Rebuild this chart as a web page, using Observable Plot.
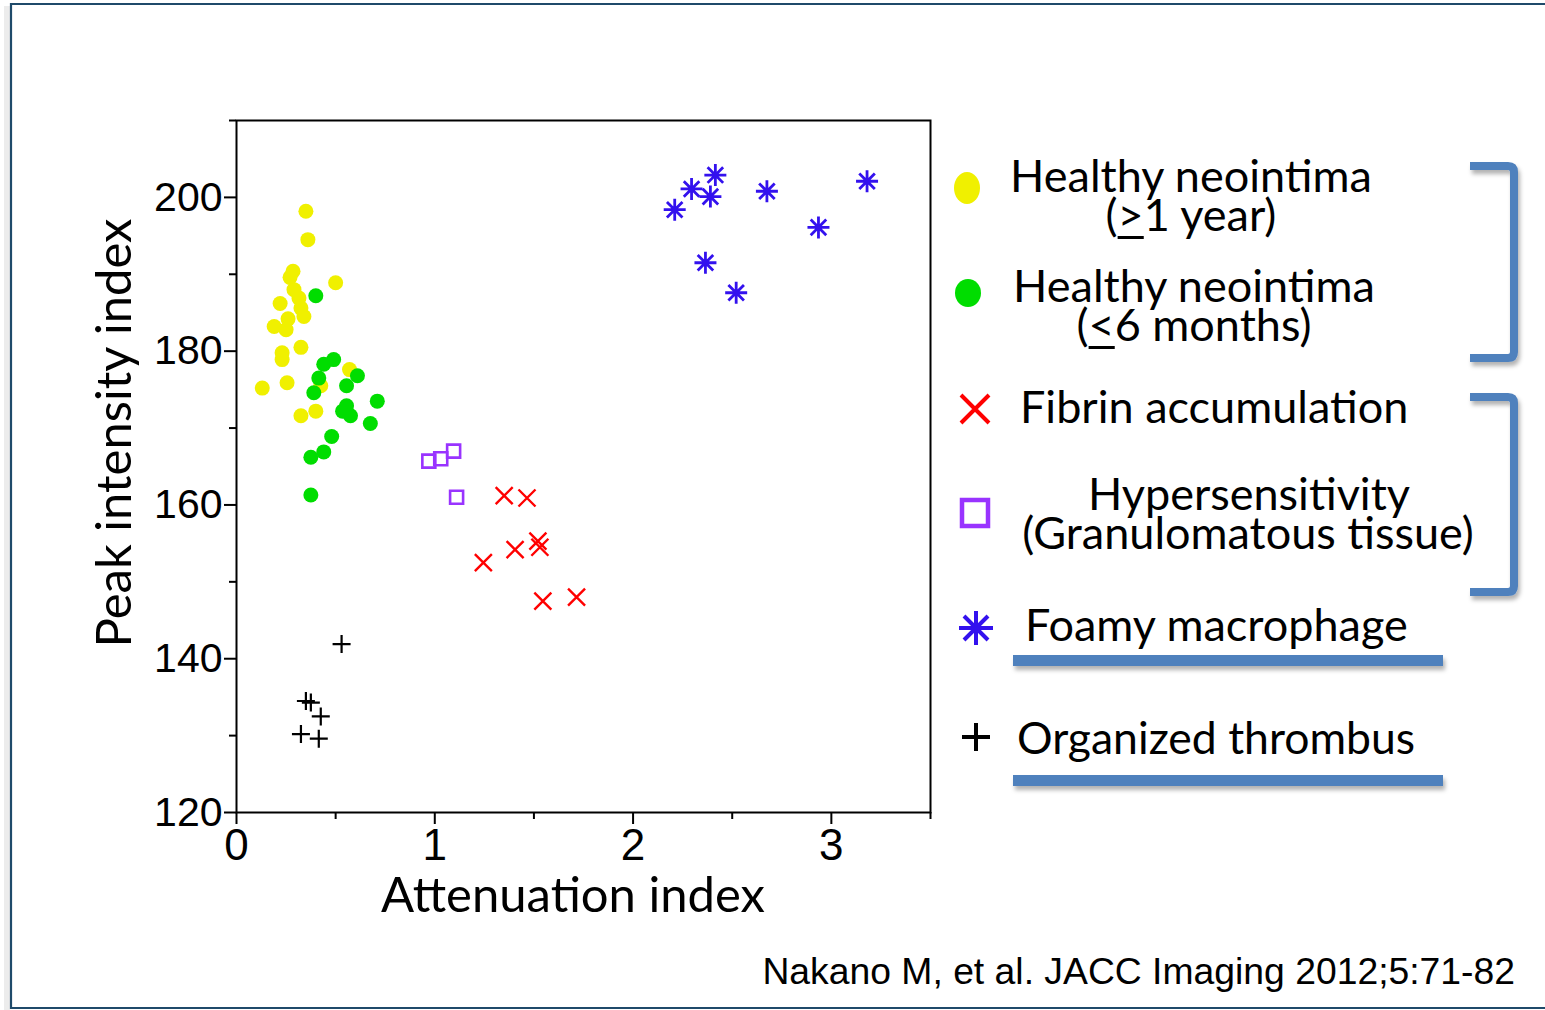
<!DOCTYPE html>
<html>
<head>
<meta charset="utf-8">
<script src="https://cdn.jsdelivr.net/npm/d3@7"></script>
<script src="https://cdn.jsdelivr.net/npm/@observablehq/plot@0.6"></script>
<style>
  html, body { margin: 0; padding: 0; background: #fff; }
  #wrap { position: relative; width: 1545px; height: 1010px; overflow: hidden; background: #fff; }
  #deco { position: absolute; left: 0; top: 0; }
  #chart { position: absolute; left: 0; top: 0; }
  .lg { font-family: Lato, "Open Sans", sans-serif; fill: #000; }
</style>
</head>
<body>
<div id="wrap">
  <svg id="deco" width="1545" height="1010"></svg>
  <div id="chart"></div>
</div>
<script>
// ---- Data ----
const xTicksMajor = [0, 1, 2, 3];
const xTicksMinor = [0.5, 1.5, 2.5, 3.5];
const yTicksMajor = [120, 140, 160, 180, 200];
const yTicksMinor = [130, 150, 170, 190, 210];

const healthyOld = [ // Healthy neointima (>1 year)
  [0.35,198.2],[0.36,194.5],[0.285,190.4],[0.27,189.6],[0.50,188.9],[0.29,188.0],
  [0.315,186.9],[0.22,186.2],[0.325,185.6],[0.26,184.2],[0.34,184.5],[0.19,183.2],
  [0.25,182.8],[0.325,180.5],[0.23,179.8],[0.23,178.9],[0.57,177.6],[0.425,175.5],
  [0.13,175.2],[0.255,175.9],[0.40,172.2],[0.325,171.6]
];
const healthyYoung = [ // Healthy neointima (<=6 months)
  [0.40,187.2],[0.49,178.9],[0.44,178.3],[0.61,176.8],[0.415,176.5],[0.555,175.5],
  [0.39,174.6],[0.71,173.5],[0.555,172.9],[0.535,172.2],[0.575,171.6],[0.675,170.6],
  [0.48,168.9],[0.44,166.9],[0.375,166.2],[0.375,161.3]
];
const fibrin = [
  [1.35,161.2],[1.465,160.9],[1.405,154.2],[1.52,155.3],[1.53,154.5],[1.245,152.5],
  [1.545,147.5],[1.715,148.0]
];
const hypersensitivity = [
  [0.97,165.7],[1.03,166.0],[1.095,167.0],[1.11,161.0]
];
const foamy = [
  [2.21,198.4],[2.295,201.1],[2.415,202.9],[2.39,200.1],[2.675,200.8],[3.18,202.1],
  [2.935,196.1],[2.365,191.5],[2.52,187.6]
];
const thrombus = [
  [0.53,141.9],[0.35,134.5],[0.375,134.3],[0.425,132.5],[0.325,130.2],[0.415,129.6]
];

// ---- custom stroke symbols ----
const rad = s => Math.sqrt(s / Math.PI);
const symTimes = {draw(c, s){ const r = rad(s); c.moveTo(-r,-r); c.lineTo(r,r); c.moveTo(-r,r); c.lineTo(r,-r); }};
const symPlus = {draw(c, s){ const r = rad(s); c.moveTo(-r,0); c.lineTo(r,0); c.moveTo(0,-r); c.lineTo(0,r); }};
const symSquare = {draw(c, s){ const r = rad(s); c.moveTo(-r,-r); c.lineTo(r,-r); c.lineTo(r,r); c.lineTo(-r,r); c.closePath(); }};
const symAst = {draw(c, s){ const r = rad(s), d = r*0.7071;
  c.moveTo(-r,0); c.lineTo(r,0); c.moveTo(0,-r); c.lineTo(0,r);
  c.moveTo(-d,-d); c.lineTo(d,d); c.moveTo(-d,d); c.lineTo(d,-d); }};

const X = d => d[0], Y = d => d[1];

const chart = Plot.plot({
  width: 960, height: 940,
  marginLeft: 236, marginRight: 30, marginTop: 120, marginBottom: 128,
  style: {background: "transparent", fontFamily: "'Liberation Sans', Arial, sans-serif", overflow: "visible"},
  x: {domain: [0, 3.5]},
  y: {domain: [120, 210]},
  marks: [
    Plot.dot(healthyOld, {x: X, y: Y, r: 7.5, fill: "#f0f000", stroke: "none"}),
    Plot.dot(healthyYoung, {x: X, y: Y, r: 7.5, fill: "#00dd00", stroke: "none"}),
    Plot.dot(hypersensitivity, {x: X, y: Y, r: 6.5, symbol: symSquare, fill: "none", stroke: "#9933ff", strokeWidth: 2.6}),
    Plot.dot(fibrin, {x: X, y: Y, r: 8.5, symbol: symTimes, fill: "none", stroke: "#ff0000", strokeWidth: 2.4}),
    Plot.dot(foamy, {x: X, y: Y, r: 11, symbol: symAst, fill: "none", stroke: "#3311ee", strokeWidth: 2.8}),
    Plot.dot(thrombus, {x: X, y: Y, r: 9, symbol: symPlus, fill: "none", stroke: "#000", strokeWidth: 2.2}),
    Plot.axisY({ticks: yTicksMajor, tickSize: 12, tickPadding: 2, strokeWidth: 2, fontSize: 41, label: null, tickFormat: d => String(d)}),
    Plot.axisY({ticks: yTicksMinor, tickSize: 7, strokeWidth: 2, tickFormat: () => "", label: null}),
    Plot.axisX({ticks: xTicksMajor, tickSize: 12, tickPadding: 4, strokeWidth: 2, fontSize: 44, label: null,
      fontFamily: "'Liberation Sans Narrow', 'Liberation Sans', sans-serif", tickFormat: d => String(d)}),
    Plot.axisX({ticks: xTicksMinor, tickSize: 7, strokeWidth: 2, tickFormat: () => "", label: null}),
    Plot.frame({stroke: "#000", strokeWidth: 2})
  ]
});
document.getElementById("chart").appendChild(chart);

// ---- decorations: border, titles, legend, brackets ----
const svg = d3.select("#deco");
const defs = svg.append("defs");
const f = defs.append("filter").attr("id", "sh").attr("x", "-10%").attr("y", "-10%").attr("width", "130%").attr("height", "140%");
f.append("feDropShadow").attr("dx", 2).attr("dy", 4).attr("stdDeviation", 2).attr("flood-color", "#000").attr("flood-opacity", 0.3);

svg.append("rect").attr("x", 4).attr("y", 6).attr("width", 6).attr("height", 1004).attr("fill", "#ececec");
svg.append("path").attr("d", "M1545,4 H11 V1008 H1545").attr("fill", "none").attr("stroke", "#1f4a6a").attr("stroke-width", 2.2);

// axis titles
svg.append("text").attr("class", "lg").style("font-size", "49px").attr("text-anchor", "middle")
  .attr("transform", "translate(131,433) rotate(-90)").text("Peak intensity index");
svg.append("text").attr("class", "lg").style("font-size", "49px").attr("text-anchor", "middle")
  .attr("x", 573).attr("y", 912).text("Attenuation index");

// citation
svg.append("text").attr("x", 1515).attr("y", 984).attr("text-anchor", "end")
  .attr("font-family", "'Liberation Sans', Arial, sans-serif").style("font-size", "37.3px").attr("fill", "#000")
  .text("Nakano M, et al. JACC Imaging 2012;5:71-82");

// legend markers
svg.append("ellipse").attr("cx", 967).attr("cy", 188).attr("rx", 13).attr("ry", 16).attr("fill", "#f0f000");
svg.append("ellipse").attr("cx", 968).attr("cy", 293).attr("rx", 13).attr("ry", 14).attr("fill", "#00dd00");
svg.append("path").attr("d", "M961,395 L989,423 M961,423 L989,395").attr("stroke", "#ff0000").attr("stroke-width", 4).attr("fill", "none");
svg.append("rect").attr("x", 962).attr("y", 500).attr("width", 26).attr("height", 26).attr("stroke", "#9933ff").attr("stroke-width", 4.5).attr("fill", "none");
svg.append("path").attr("d", "M959,628 H993 M976,611 V645 M964,616 L988,640 M964,640 L988,616").attr("stroke", "#3311ee").attr("stroke-width", 4).attr("fill", "none");
svg.append("path").attr("d", "M962,737 H990 M976,723 V751").attr("stroke", "#000").attr("stroke-width", 4).attr("fill", "none");

// legend text (single text per line; underline drawn under the comparison sign)
function lt(x, y, anchor, str, size, uIndex) {
  const t = svg.append("text").attr("class", "lg").attr("x", x).attr("y", y)
    .attr("text-anchor", anchor).style("font-size", size + "px").text(str);
  if (uIndex != null) {
    const node = t.node();
    const bb = node.getBBox();
    const x0 = bb.x + node.getSubStringLength(0, uIndex);
    const w = node.getSubStringLength(uIndex, 1);
    svg.append("rect").attr("x", x0).attr("y", y + 5).attr("width", w).attr("height", 3).attr("fill", "#000");
  }
}
lt(1191, 192, "middle", "Healthy neointima", 45);
lt(1191, 231, "middle", "(>1 year)", 45, 1);
lt(1194, 302, "middle", "Healthy neointima", 45);
lt(1194, 341, "middle", "(<6 months)", 45, 1);
lt(1020, 423, "start", "Fibrin accumulation", 45);
lt(1249, 510, "middle", "Hypersensitivity", 45);
lt(1248, 549, "middle", "(Granulomatous tissue)", 45);
lt(1025, 641, "start", "Foamy macrophage", 45);
lt(1017, 754, "start", "Organized thrombus", 44.5);

// brackets and underlines
const blue = "#4f81bd";
const g = svg.append("g").attr("filter", "url(#sh)");
g.append("path").attr("d", "M1470,166 H1508 Q1514,166 1514,172 V352 Q1514,358 1508,358 H1470")
  .attr("fill", "none").attr("stroke", blue).attr("stroke-width", 8);
g.append("path").attr("d", "M1470,397 H1508 Q1514,397 1514,403 V586 Q1514,592 1508,592 H1470")
  .attr("fill", "none").attr("stroke", blue).attr("stroke-width", 8);
g.append("rect").attr("x", 1013).attr("y", 655).attr("width", 430).attr("height", 11).attr("fill", blue);
g.append("rect").attr("x", 1013).attr("y", 775).attr("width", 430).attr("height", 11).attr("fill", blue);
</script>
</body>
</html>
